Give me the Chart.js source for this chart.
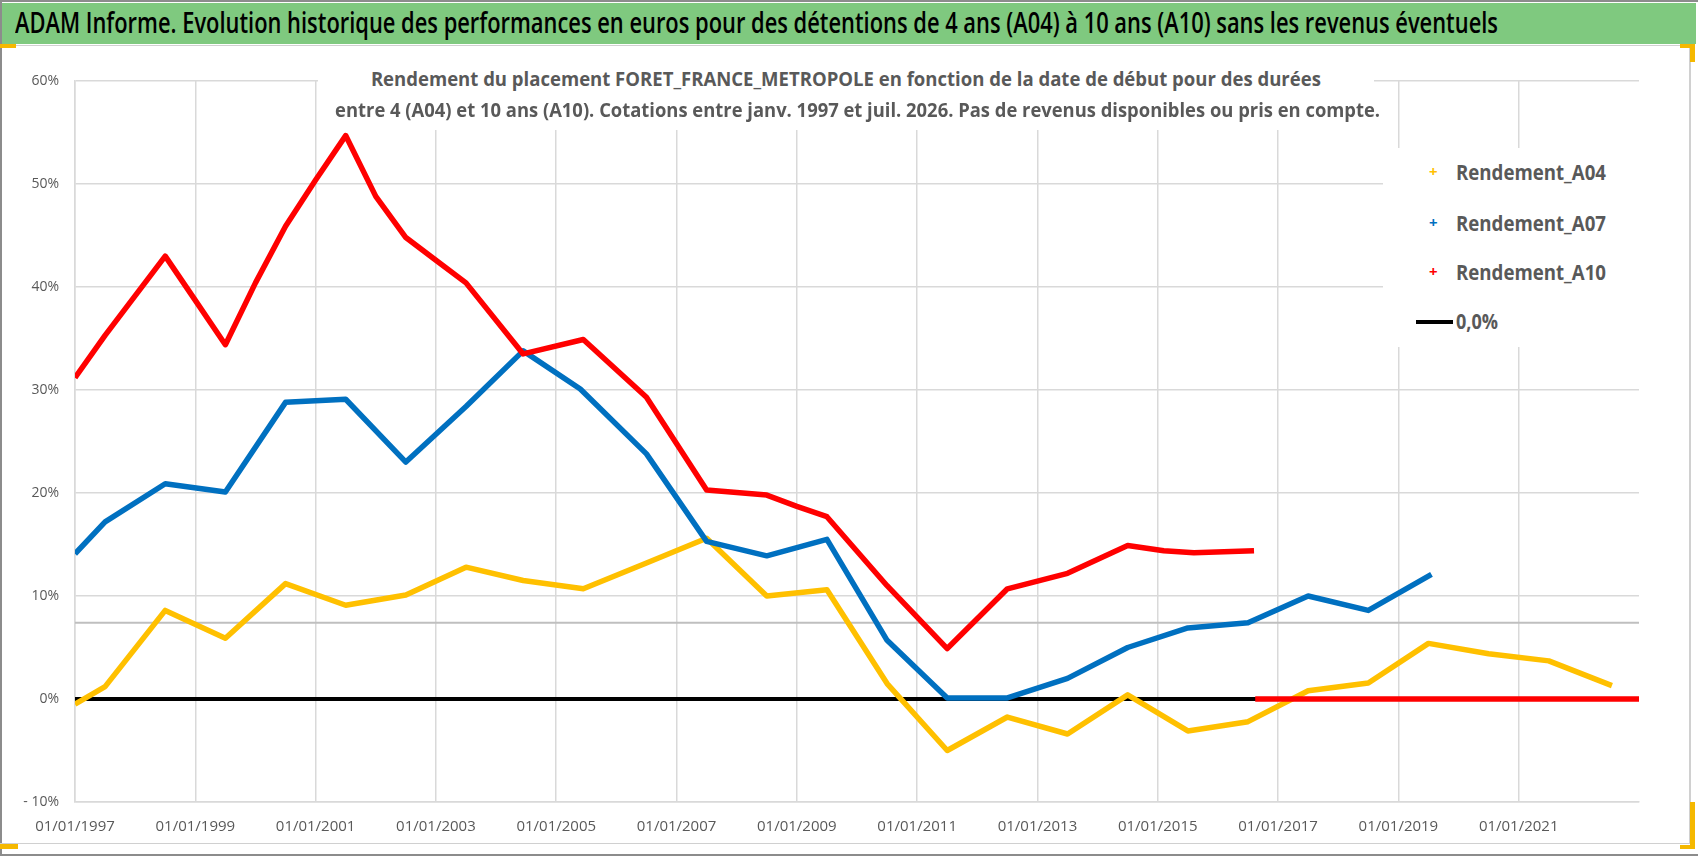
<!DOCTYPE html>
<html>
<head>
<meta charset="utf-8">
<title>ADAM Informe - FORET_FRANCE_METROPOLE</title>
<script src="https://cdn.jsdelivr.net/npm/chart.js@4.4.1/dist/chart.umd.min.js"></script>
<style>
  html, body { margin: 0; padding: 0; background: #fff; }
  #page { position: relative; width: 1698px; height: 856px; overflow: hidden; font-family: "Open Sans", sans-serif; }
  #chart { position: absolute; left: 0; top: 0; width: 1698px; height: 856px; }
  .line { position: absolute; background: #8c8c8c; }
  .light { background: #d0d0d0; }
  .handle { position: absolute; background: #f5b800; }
  #titlebar { position: absolute; left: 2px; top: 3px; width: 1694px; height: 41px; background: #7fc97f; }
  #titlebar span { position: absolute; left: 13px; top: 0px; font-size: 28px; font-weight: 600; color: #000; white-space: nowrap; transform-origin: left center; }
  #subtitle { position: absolute; left: 318px; top: 62px; width: 1056px; height: 68px; background: #fff; }
  #subtitle div { position: absolute; left: 0; width: 100%; text-align: center; }
  #subtitle span { display: inline-block; font-weight: 700; font-size: 19px; color: #595959; white-space: nowrap; transform-origin: center center; }
  #legend { position: absolute; left: 1383px; top: 148px; width: 257px; height: 199px; background: #fff; }
  .item { position: absolute; left: 0; height: 30px; width: 257px; }
  .item .mk { position: absolute; left: 46px; top: 3px; font-size: 15px; font-weight: 700; }
  .item .ln { position: absolute; left: 33px; top: 13px; width: 37px; height: 4px; background: #000; }
  .item .tx { position: absolute; left: 73px; top: 0; font-size: 21px; font-weight: 700; color: #595959; white-space: nowrap; transform-origin: left center; }
</style>
</head>
<body>
<div id="page">
  <canvas id="chart" width="1698" height="856"></canvas>

  <div class="line" style="left:0;top:0;width:1698px;height:2px"></div>
  <div class="line" style="left:0;top:0;width:2px;height:856px"></div>
  <div class="line" style="left:0;top:854px;width:1698px;height:2px"></div>
  <div class="line light" style="left:0;top:45px;width:1690px;height:1px"></div>
  <div class="line light" style="left:1689px;top:45px;width:2px;height:799px"></div>
  <div class="line light" style="left:0;top:843px;width:1690px;height:1px"></div>
  <div class="handle" style="left:0;top:44px;width:16px;height:4px"></div>
  <div class="handle" style="left:0;top:844px;width:18px;height:5px"></div>
  <div class="handle" style="left:1680px;top:44px;width:14px;height:4px"></div>
  <div class="handle" style="left:1690px;top:44px;width:5px;height:18px"></div>
  <div class="handle" style="left:1690px;top:802px;width:5px;height:47px"></div>
  <div class="handle" style="left:1680px;top:845px;width:15px;height:4px"></div>

  <div id="titlebar"><span id="titleText">ADAM Informe. Evolution historique des performances en euros pour des détentions de 4 ans (A04) à 10 ans (A10) sans les revenus éventuels</span></div>

  <div id="subtitle">
    <div style="top:4px"><span id="sub1">Rendement du placement FORET_FRANCE_METROPOLE en fonction de la date de début pour des durées</span></div>
    <div style="top:35px"><span id="sub2">entre 4 (A04) et 10 ans (A10). Cotations entre janv. 1997 et juil. 2026. Pas de revenus disponibles ou pris en compte.</span></div>
  </div>

  <div id="legend"></div>
</div>

<script>
// ==============================
// DATA (dates as decimal years, values in %)
// ==============================
const xTickYears = [1997, 1999, 2001, 2003, 2005, 2007, 2009, 2011, 2013, 2015, 2017, 2019, 2021];
const yTickValues = [-10, 0, 10, 20, 30, 40, 50, 60];

const yearsA04 = [1997.0, 1997.5, 1998.5, 1999.5, 2000.5, 2001.5, 2002.5, 2003.5, 2004.45, 2005.45, 2006.5, 2007.5, 2008.5, 2009.5, 2010.5, 2011.5, 2012.5, 2013.5, 2014.5, 2015.5, 2016.5, 2017.5, 2018.5, 2019.5, 2020.5, 2021.5, 2022.55];
const rendA04  = [-0.5, 1.2, 8.6, 5.9, 11.2, 9.1, 10.1, 12.8, 11.5, 10.7, 13.2, 15.6, 10.0, 10.6, 1.5, -5.0, -1.75, -3.4, 0.4, -3.1, -2.2, 0.8, 1.55, 5.4, 4.4, 3.7, 1.3];

const yearsA07 = [1997.0, 1997.5, 1998.5, 1999.5, 2000.5, 2001.5, 2002.5, 2003.5, 2004.45, 2005.4, 2006.5, 2007.5, 2008.5, 2009.5, 2010.5, 2011.5, 2012.5, 2013.5, 2014.5, 2015.5, 2016.5, 2017.5, 2018.5, 2019.55];
const rendA07  = [14.1, 17.2, 20.9, 20.1, 28.8, 29.1, 23.0, 28.4, 33.8, 30.1, 23.8, 15.3, 13.9, 15.5, 5.7, 0.1, 0.1, 2.0, 5.0, 6.9, 7.4, 10.0, 8.6, 12.1];

const yearsA10 = [1997.0, 1997.5, 1998.5, 1999.0, 1999.5, 2000.0, 2000.5, 2001.0, 2001.5, 2002.0, 2002.5, 2003.0, 2003.5, 2004.45, 2005.45, 2006.5, 2007.5, 2008.5, 2009.0, 2009.5, 2010.5, 2011.5, 2012.5, 2013.5, 2014.5, 2015.1, 2015.6, 2016.6];
const rendA10  = [31.2, 35.3, 43.0, 38.7, 34.4, 40.4, 45.9, 50.4, 54.7, 48.8, 44.8, 42.6, 40.4, 33.5, 34.9, 29.3, 20.3, 19.8, 18.7, 17.7, 11.0, 4.9, 10.7, 12.2, 14.9, 14.4, 14.2, 14.4];
// A10 no longer available after mid-2016: plotted at 0
const tailYearsA10 = [2016.62, 2023];
const tailRendA10  = [0, 0];

const zeroYears  = [1997, 2023];
const zeroValues = [0, 0];
const refYears   = [1997, 2023];
const refValues  = [7.4, 7.4];

const seriesNames = ['Rendement_A04', 'Rendement_A07', 'Rendement_A10', '0,0%'];
const seriesColors = ['#ffc000', '#0070c0', '#ff0000', '#000000'];

const toPoints = (xs, ys) => xs.map((x, i) => ({ x: x, y: ys[i] }));

// ==============================
// CHART
// ==============================
const a10Points = toPoints(yearsA10, rendA10)
  .concat([{ x: tailYearsA10[0], y: null }])
  .concat(toPoints(tailYearsA10, tailRendA10));

const lineStyle = { pointRadius: 0, borderWidth: 5.5, tension: 0, borderJoinStyle: 'round', spanGaps: false };

new Chart(document.getElementById('chart'), {
  type: 'line',
  data: {
    datasets: [
      { label: 'ref', data: toPoints(refYears, refValues), borderColor: '#bfbfbf', borderWidth: 2, pointRadius: 0, order: 6 },
      { label: seriesNames[3], data: toPoints(zeroYears, zeroValues), borderColor: seriesColors[3], ...lineStyle, borderWidth: 4, order: 5 },
      { label: seriesNames[0], data: toPoints(yearsA04, rendA04), borderColor: seriesColors[0], ...lineStyle, order: 3 },
      { label: seriesNames[1], data: toPoints(yearsA07, rendA07), borderColor: seriesColors[1], ...lineStyle, order: 2 },
      { label: seriesNames[2], data: a10Points, borderColor: seriesColors[2], ...lineStyle, order: 1 }
    ]
  },
  options: {
    responsive: false,
    animation: false,
    layout: { padding: { top: 81, right: 59, bottom: 0, left: 0 } },
    plugins: { legend: { display: false }, tooltip: { enabled: false } },
    scales: {
      x: {
        type: 'linear',
        min: 1997,
        max: 2023,
        afterBuildTicks: scale => { scale.ticks = xTickYears.map(v => ({ value: v })); },
        afterFit: scale => { scale.height = 54; },
        grid: { color: '#d9d9d9', lineWidth: 1.5, drawTicks: false },
        border: { color: '#d9d9d9', width: 1.5 },
        ticks: {
          padding: 16,
          color: '#595959',
          font: { family: 'Open Sans', size: 15 },
          maxRotation: 0,
          autoSkip: false,
          callback: v => '01/01/' + v
        }
      },
      y: {
        min: -10,
        max: 60,
        afterBuildTicks: scale => { scale.ticks = yTickValues.map(v => ({ value: v })); },
        afterFit: scale => { scale.width = 75; },
        grid: { color: '#d9d9d9', lineWidth: 1.5, drawTicks: false },
        border: { color: '#d9d9d9', width: 1.5 },
        ticks: {
          padding: 16,
          color: '#595959',
          font: { family: 'Open Sans', size: 14 },
          callback: v => v < 0 ? '- ' + Math.abs(v) + '%' : v + '%'
        }
      }
    }
  }
});

// ==============================
// LEGEND (inside the plot, right side)
// ==============================
const legendBox = document.getElementById('legend');
const legendTops = [10, 61, 110, 159];
seriesNames.forEach((name, i) => {
  const item = document.createElement('div');
  item.className = 'item';
  item.style.top = legendTops[i] + 'px';
  const mark = i < 3
    ? `<span class="mk" style="color:${seriesColors[i]}">+</span>`
    : `<span class="ln"></span>`;
  item.innerHTML = mark + `<span class="tx">${name}</span>`;
  legendBox.appendChild(item);
});

// ==============================
// TEXT WIDTH FITTING (narrow Calibri-like look)
// ==============================
function fitWidth(el, target) {
  el.style.transform = '';
  const w = el.getBoundingClientRect().width;
  if (w > 0) el.style.transform = `scaleX(${target / w})`;
}
function fitAll() {
  fitWidth(document.getElementById('titleText'), 1483);
  fitWidth(document.getElementById('sub1'), 950);
  fitWidth(document.getElementById('sub2'), 1045);
  const labels = legendBox.querySelectorAll('.tx');
  labels.forEach((el, i) => fitWidth(el, i < 3 ? 150 : 42));
}
fitAll();
document.fonts && document.fonts.ready.then(fitAll);
</script>
</body>
</html>
